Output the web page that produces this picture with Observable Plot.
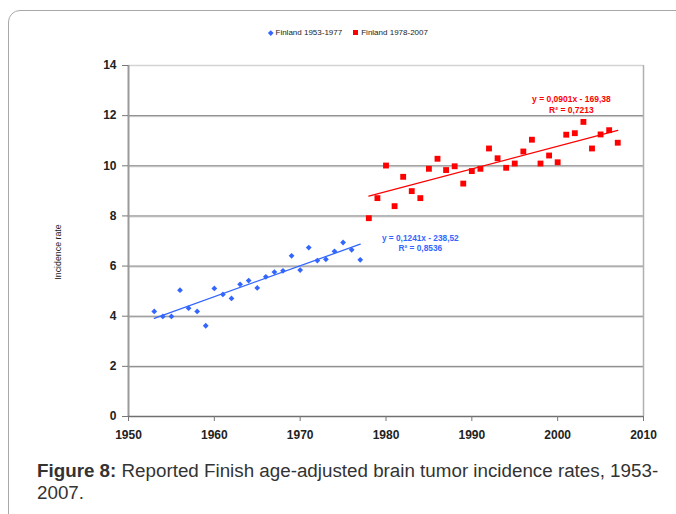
<!DOCTYPE html>
<html>
<head>
<meta charset="utf-8">
<script src="https://cdn.jsdelivr.net/npm/d3@7"></script>
<script src="https://cdn.jsdelivr.net/npm/@observablehq/plot@0.6"></script>
<style>
  html, body { margin: 0; padding: 0; background: #fff; overflow: hidden; }
  #wrap { position: relative; width: 676px; height: 514px; overflow: hidden; font-family: "Liberation Sans", Arial, sans-serif; }
  #box { position: absolute; left: 8px; top: 10px; width: 700px; height: 540px; border: 1px solid #a8a8a8; border-top-left-radius: 12px; }
  #chart { position: absolute; left: 0; top: 0; }
  #legend { position: absolute; top: 28px; left: 269px; font-size: 8px; color: #222; white-space: nowrap; display: flex; align-items: center; }
  #legend .item { display: flex; align-items: center; margin-right: 11px; }
  #legend .dia { width: 3.5px; height: 3.5px; background: #3366ff; transform: rotate(45deg); margin-right: 3px; }
  #legend .sq { width: 5px; height: 5px; background: #ff0000; margin-right: 3px; }
  #caption { position: absolute; left: 37px; top: 460px; width: 640px; font-size: 18.8px; line-height: 22px; color: #333; white-space: nowrap; }
</style>
</head>
<body>
<div id="wrap">
  <div id="box"></div>
  <div id="chart"></div>
  <div id="legend"></div>
  <div id="caption"><div><b>Figure 8:</b> <span>Reported Finish age-adjusted brain tumor incidence rates, 1953-</span></div><div>2007.</div></div>
</div>
<script>
// ---- data ----
const blueName = "Finland 1953-1977";
const redName = "Finland 1978-2007";
const blueYears = [1953,1954,1955,1956,1957,1958,1959,1960,1961,1962,1963,1964,1965,1966,1967,1968,1969,1970,1971,1972,1973,1974,1975,1976,1977];
const blueValues = [4.19,3.99,3.99,5.04,4.32,4.19,3.62,5.11,4.87,4.71,5.27,5.42,5.13,5.57,5.76,5.81,6.41,5.84,6.74,6.22,6.27,6.59,6.94,6.65,6.25];
const redYears = [1978,1979,1980,1981,1982,1983,1984,1985,1986,1987,1988,1989,1990,1991,1992,1993,1994,1995,1996,1997,1998,1999,2000,2001,2002,2003,2004,2005,2006,2007];
const redValues = [7.91,8.71,10.01,8.39,9.56,8.99,8.71,9.88,10.28,9.83,9.98,9.29,9.79,9.88,10.69,10.30,9.92,10.09,10.57,11.04,10.09,10.41,10.14,11.24,11.30,11.75,10.69,11.25,11.42,10.92];
const xTicks = [1950,1960,1970,1980,1990,2000,2010];
const yTicks = [0,2,4,6,8,10,12,14];
const yLabel = "Incidence rate";
const blueEq = "y = 0,1241x - 238,52\nR² = 0,8536";
const redEq = "y = 0,0901x - 169,38\nR² = 0,7213";
const blueEqPos = [{x: 1984.0, y: 6.94, label: blueEq}];
const redEqPos = [{x: 2001.6, y: 12.47, label: redEq}];

const BLUE = "#3366ff";
const RED = "#ff0000";

const blueData = blueYears.map((yr, i) => ({year: yr, value: blueValues[i]}));
const redData = redYears.map((yr, i) => ({year: yr, value: redValues[i]}));
const grid = yTicks.filter(v => v > 0 && v < 14);

const chart = Plot.plot({
  width: 676,
  height: 460,
  marginLeft: 128,
  marginRight: 33,
  marginTop: 65,
  marginBottom: 44,
  style: {fontFamily: "'Liberation Sans', Arial, sans-serif", background: "transparent", overflow: "visible"},
  x: {domain: [1950, 2010]},
  y: {domain: [0, 14]},
  marks: [
    Plot.ruleY([14], {stroke: "#d4d4d4", strokeWidth: 1.5}),
    Plot.ruleY(grid, {stroke: "#cfcfcf", dy: 1}),
    Plot.ruleY(grid, {stroke: "#808080"}),
    Plot.ruleX([2010], {stroke: "#b0b0b0", strokeWidth: 1.5}),
    Plot.ruleX([1950], {stroke: "#9a9a9a", strokeWidth: 2}),
    Plot.ruleY([0], {stroke: "#707070", strokeWidth: 1.5}),
    Plot.axisY({ticks: yTicks, tickSize: 6, tickPadding: 6, fontSize: 12, fontWeight: "bold", label: null, stroke: "#777", fill: "#222"}),
    Plot.axisX({ticks: xTicks, tickSize: 5, tickPadding: 9, fontSize: 12, fontWeight: "bold", label: null, tickFormat: d => String(d), stroke: "#777", fill: "#222"}),
    Plot.text([yLabel], {frameAnchor: "left", textAnchor: "middle", rotate: -90, dx: -70, dy: 11, fontSize: 8.8, fill: "#222"}),
    Plot.linearRegressionY(blueData, {x: "year", y: "value", stroke: BLUE, strokeWidth: 1.3, ci: 0}),
    Plot.linearRegressionY(redData, {x: "year", y: "value", stroke: RED, strokeWidth: 1.3, ci: 0}),
    Plot.dot(blueData, {x: "year", y: "value", symbol: "diamond2", fill: BLUE, stroke: "none", r: 2.6}),
    Plot.dot(redData, {x: "year", y: "value", symbol: "square", fill: RED, r: 3.3}),
    Plot.text(blueEqPos, {x: "x", y: "y", text: "label", fill: BLUE, fontSize: 8.3, fontWeight: "bold", lineHeight: 1.3}),
    Plot.text(redEqPos, {x: "x", y: "y", text: "label", fill: RED, fontSize: 8.5, fontWeight: "bold", lineHeight: 1.3})
  ]
});
document.getElementById("chart").appendChild(chart);

const legend = document.getElementById("legend");
[[blueName, "dia"], [redName, "sq"]].forEach(([name, cls]) => {
  const item = document.createElement("span");
  item.className = "item";
  const m = document.createElement("span");
  m.className = cls;
  item.appendChild(m);
  item.appendChild(document.createTextNode(name));
  legend.appendChild(item);
});
</script>
</body>
</html>
